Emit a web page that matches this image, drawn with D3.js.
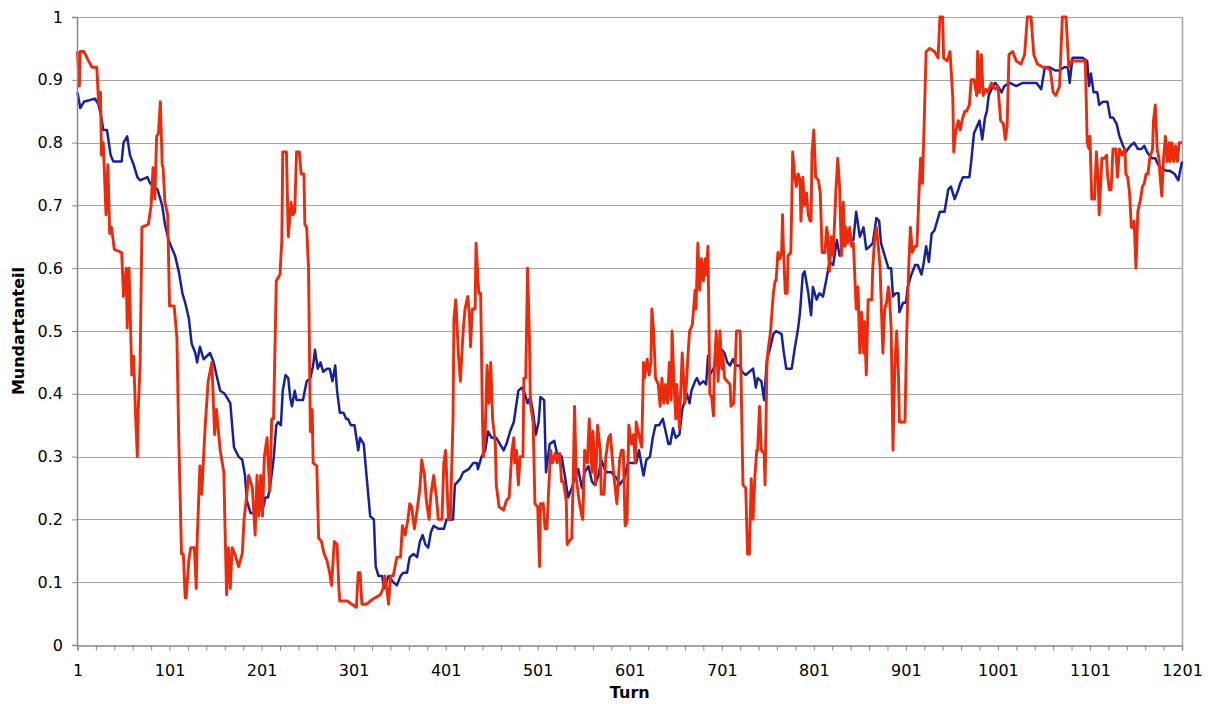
<!DOCTYPE html>
<html>
<head>
<meta charset="utf-8">
<script src="https://cdn.jsdelivr.net/npm/d3@7"></script>
<style>
  html, body { margin: 0; padding: 0; background: #ffffff; }
  svg { display: block; }
  text { font-family: "DejaVu Sans", Verdana, sans-serif; fill: #000; }
</style>
</head>
<body>
<div id="chart"></div>
<script>
// Blue series (turn, share)
const blueTurns = [1,4,8,20,24,27,29,33,37,40,49,51,55,58,62,66,69,77,80,88,93,96,100,104,107,111,115,118,122,125,129,131,134,138,145,149,152,156,161,167,171,176,180,183,185,189,193,198,203,205,208,210,214,217,219,222,224,227,230,232,234,237,239,246,250,254,257,259,262,265,268,272,275,278,281,283,286,290,293,295,298,302,304,306,308,312,315,319,323,325,328,332,334,339,344,348,352,355,359,362,366,370,373,376,379,382,385,388,393,399,402,406,409,411,417,420,426,431,435,436,440,444,447,451,456,460,464,467,471,475,477,480,484,487,490,493,496,499,502,504,508,510,514,519,522,527,531,534,538,541,545,549,552,556,560,563,567,570,575,581,587,590,595,599,604,608,611,614,616,619,623,626,629,633,637,640,643,645,648,651,655,658,663,666,668,672,674,677,681,684,686,688,692,696,701,704,707,710,713,716,720,723,727,731,735,738,740,744,747,750,753,757,760,766,768,771,777,780,784,786,789,791,795,798,800,804,807,811,815,818,822,826,829,833,836,840,844,847,851,855,858,862,865,869,872,874,878,882,885,887,890,893,894,898,901,903,907,911,914,918,920,923,926,929,932,935,938,943,947,950,954,958,960,963,970,972,975,978,981,984,987,989,991,994,998,1001,1005,1008,1014,1021,1028,1035,1043,1048,1052,1057,1063,1068,1073,1077,1079,1082,1088,1093,1098,1100,1102,1105,1109,1111,1115,1120,1123,1126,1130,1133,1137,1140,1145,1149,1153,1157,1160,1163,1168,1172,1175,1178,1184,1188,1193,1197,1201];
const blueShare = [0.88,0.855,0.865,0.87,0.86,0.84,0.82,0.82,0.78,0.77,0.77,0.80,0.81,0.78,0.765,0.745,0.74,0.745,0.735,0.725,0.70,0.67,0.645,0.63,0.62,0.595,0.56,0.545,0.52,0.48,0.465,0.45,0.475,0.455,0.465,0.45,0.43,0.405,0.40,0.385,0.315,0.30,0.295,0.27,0.23,0.21,0.21,0.215,0.22,0.235,0.235,0.25,0.295,0.35,0.355,0.35,0.405,0.43,0.425,0.395,0.38,0.405,0.39,0.39,0.42,0.425,0.445,0.47,0.44,0.45,0.435,0.44,0.44,0.42,0.445,0.405,0.37,0.37,0.36,0.36,0.35,0.35,0.33,0.31,0.33,0.32,0.27,0.205,0.20,0.125,0.11,0.11,0.09,0.11,0.10,0.095,0.11,0.115,0.115,0.14,0.145,0.14,0.165,0.175,0.16,0.155,0.18,0.19,0.185,0.185,0.20,0.20,0.20,0.255,0.265,0.275,0.28,0.29,0.29,0.28,0.30,0.31,0.34,0.33,0.33,0.32,0.31,0.32,0.34,0.355,0.375,0.405,0.41,0.40,0.385,0.395,0.37,0.335,0.355,0.395,0.39,0.275,0.32,0.325,0.305,0.30,0.265,0.235,0.25,0.265,0.28,0.25,0.275,0.285,0.26,0.255,0.27,0.295,0.275,0.275,0.265,0.255,0.265,0.29,0.29,0.29,0.31,0.285,0.27,0.295,0.30,0.33,0.35,0.35,0.36,0.34,0.32,0.32,0.345,0.33,0.335,0.375,0.40,0.385,0.405,0.42,0.425,0.415,0.42,0.415,0.46,0.43,0.44,0.46,0.47,0.465,0.45,0.445,0.455,0.445,0.445,0.435,0.43,0.435,0.44,0.41,0.425,0.42,0.39,0.455,0.47,0.495,0.50,0.495,0.47,0.44,0.44,0.47,0.505,0.53,0.59,0.595,0.56,0.525,0.57,0.55,0.56,0.555,0.585,0.61,0.605,0.645,0.62,0.64,0.655,0.645,0.645,0.69,0.65,0.665,0.63,0.635,0.64,0.68,0.675,0.64,0.62,0.60,0.60,0.555,0.56,0.56,0.53,0.545,0.545,0.57,0.59,0.605,0.605,0.59,0.605,0.635,0.61,0.655,0.66,0.675,0.69,0.69,0.725,0.73,0.71,0.725,0.735,0.745,0.745,0.77,0.815,0.825,0.835,0.805,0.84,0.85,0.875,0.885,0.895,0.89,0.88,0.89,0.895,0.89,0.895,0.895,0.895,0.885,0.92,0.92,0.915,0.915,0.92,0.92,0.895,0.935,0.935,0.935,0.93,0.89,0.91,0.88,0.88,0.86,0.865,0.865,0.84,0.84,0.83,0.81,0.795,0.785,0.795,0.80,0.79,0.79,0.795,0.785,0.775,0.775,0.765,0.76,0.755,0.755,0.75,0.74,0.77];

// Red series (turn, share)
const redTurns = [1,3,4,8,13,17,22,24,26,27,29,32,34,36,38,41,49,51,54,55,57,60,62,64,66,67,69,71,78,81,83,85,87,89,91,93,94,96,99,101,106,109,111,114,116,118,119,122,124,128,130,131,134,136,138,140,143,147,150,152,156,160,161,163,165,167,169,172,176,180,182,185,187,191,194,196,198,200,202,204,207,208,210,212,214,216,217,221,223,224,228,230,233,235,237,239,242,244,247,248,250,252,254,256,257,261,263,266,269,272,275,277,280,283,285,286,294,299,304,306,308,310,315,319,324,330,333,335,337,339,341,344,348,352,354,357,360,362,364,367,370,373,375,378,380,383,385,388,391,393,397,399,401,404,406,409,410,412,415,417,420,422,425,427,428,430,433,434,437,439,441,442,444,446,448,450,452,455,456,459,464,467,470,473,475,476,478,480,482,485,486,488,490,492,493,496,498,501,503,504,507,509,511,513,515,517,520,522,525,527,529,532,533,535,538,540,541,543,546,549,550,552,555,557,560,561,564,566,569,570,573,575,578,580,583,587,590,592,594,596,598,600,603,605,607,608,611,614,616,617,620,622,624,625,627,629,632,634,636,638,640,642,644,646,647,649,651,652,655,656,658,661,663,664,666,669,672,673,675,677,679,681,683,684,686,688,690,692,693,695,697,699,701,702,704,707,710,711,714,717,721,724,727,729,731,733,735,737,739,740,742,744,747,748,750,751,754,757,759,760,762,764,766,767,768,770,772,773,776,777,778,780,782,784,786,787,789,791,793,795,797,798,799,801,803,806,808,810,813,815,816,818,820,822,825,827,829,831,833,835,836,838,840,842,844,847,849,851,853,855,856,858,860,864,865,867,869,871,873,874,876,878,880,882,883,885,887,889,891,893,894,900,902,904,906,908,911,913,915,917,919,920,923,927,932,936,938,941,942,946,949,952,953,955,958,960,962,965,967,970,972,975,978,979,981,983,985,988,990,994,998,1001,1004,1007,1009,1011,1013,1017,1021,1026,1030,1033,1037,1040,1044,1050,1054,1058,1061,1064,1068,1071,1075,1078,1081,1086,1092,1096,1098,1100,1101,1103,1106,1108,1110,1111,1114,1117,1119,1120,1122,1124,1126,1129,1131,1133,1136,1139,1140,1142,1144,1146,1148,1149,1151,1153,1156,1158,1160,1162,1164,1166,1169,1170,1172,1174,1176,1177,1179,1181,1183,1185,1187,1188,1190,1192,1194,1196,1198,1201];
const redShare = [0.945,0.89,0.945,0.945,0.93,0.92,0.92,0.86,0.88,0.78,0.80,0.685,0.765,0.655,0.665,0.63,0.625,0.555,0.60,0.505,0.60,0.43,0.46,0.37,0.30,0.375,0.445,0.665,0.67,0.70,0.76,0.71,0.81,0.815,0.865,0.765,0.76,0.705,0.685,0.54,0.54,0.49,0.33,0.145,0.145,0.075,0.075,0.135,0.155,0.155,0.09,0.165,0.285,0.24,0.30,0.355,0.42,0.45,0.335,0.375,0.31,0.275,0.205,0.08,0.155,0.09,0.155,0.145,0.125,0.145,0.20,0.24,0.27,0.25,0.175,0.27,0.205,0.27,0.205,0.30,0.33,0.295,0.245,0.36,0.36,0.505,0.58,0.59,0.645,0.785,0.785,0.65,0.705,0.685,0.69,0.785,0.785,0.75,0.75,0.67,0.665,0.60,0.34,0.375,0.29,0.285,0.17,0.165,0.145,0.135,0.115,0.095,0.165,0.16,0.09,0.07,0.07,0.065,0.06,0.115,0.115,0.065,0.065,0.07,0.075,0.08,0.09,0.11,0.09,0.065,0.11,0.11,0.14,0.14,0.19,0.175,0.20,0.225,0.22,0.185,0.215,0.25,0.295,0.27,0.23,0.20,0.24,0.27,0.235,0.20,0.20,0.29,0.31,0.20,0.20,0.36,0.52,0.55,0.46,0.42,0.50,0.535,0.555,0.52,0.475,0.535,0.535,0.64,0.56,0.56,0.36,0.30,0.34,0.445,0.385,0.45,0.36,0.32,0.255,0.22,0.215,0.23,0.235,0.31,0.33,0.29,0.31,0.255,0.30,0.30,0.425,0.425,0.60,0.49,0.385,0.355,0.225,0.22,0.125,0.225,0.225,0.185,0.185,0.25,0.31,0.29,0.305,0.29,0.305,0.26,0.26,0.23,0.16,0.165,0.17,0.295,0.38,0.265,0.23,0.205,0.20,0.31,0.29,0.36,0.275,0.34,0.255,0.35,0.31,0.24,0.24,0.30,0.33,0.335,0.28,0.225,0.295,0.31,0.31,0.19,0.195,0.35,0.32,0.335,0.29,0.355,0.335,0.315,0.45,0.425,0.455,0.43,0.45,0.535,0.50,0.425,0.415,0.38,0.425,0.385,0.415,0.385,0.45,0.39,0.50,0.42,0.36,0.415,0.345,0.39,0.465,0.385,0.425,0.455,0.50,0.51,0.565,0.535,0.64,0.565,0.615,0.58,0.615,0.59,0.635,0.40,0.395,0.365,0.445,0.50,0.42,0.50,0.44,0.465,0.425,0.42,0.415,0.38,0.385,0.50,0.50,0.255,0.25,0.145,0.145,0.265,0.20,0.27,0.31,0.31,0.38,0.31,0.305,0.255,0.445,0.465,0.50,0.56,0.58,0.58,0.625,0.615,0.625,0.685,0.63,0.56,0.56,0.62,0.625,0.70,0.785,0.75,0.73,0.75,0.74,0.675,0.745,0.70,0.72,0.685,0.675,0.675,0.785,0.82,0.745,0.74,0.72,0.625,0.625,0.665,0.655,0.595,0.65,0.62,0.725,0.775,0.73,0.62,0.705,0.635,0.665,0.64,0.665,0.635,0.64,0.535,0.57,0.465,0.53,0.465,0.515,0.43,0.55,0.55,0.60,0.645,0.665,0.635,0.60,0.555,0.465,0.535,0.545,0.57,0.56,0.505,0.31,0.445,0.50,0.425,0.355,0.355,0.50,0.60,0.665,0.625,0.635,0.635,0.71,0.775,0.735,0.785,0.945,0.95,0.945,0.935,1.0,1.0,0.935,0.93,0.945,0.87,0.785,0.815,0.835,0.82,0.835,0.85,0.85,0.86,0.90,0.90,0.875,0.945,0.88,0.94,0.875,0.885,0.88,0.895,0.885,0.89,0.835,0.83,0.805,0.825,0.94,0.945,0.93,0.925,0.94,1.0,1.0,0.94,0.925,0.92,0.92,0.915,0.88,0.875,0.89,1.0,1.0,0.92,0.93,0.93,0.93,0.93,0.80,0.79,0.81,0.71,0.71,0.785,0.74,0.685,0.775,0.775,0.78,0.75,0.725,0.725,0.79,0.79,0.745,0.79,0.78,0.79,0.75,0.745,0.72,0.665,0.665,0.675,0.60,0.69,0.71,0.73,0.735,0.75,0.75,0.775,0.79,0.835,0.86,0.79,0.775,0.75,0.715,0.775,0.81,0.77,0.80,0.77,0.80,0.77,0.795,0.77,0.80,0.80];

// Axis ticks
const xTickTurns = d3.range(1, 1202, 20);
const xLabelTurns = [1, 101, 201, 301, 401, 501, 601, 701, 801, 901, 1001, 1101, 1201];
const yTicks = [0, 0.1, 0.2, 0.3, 0.4, 0.5, 0.6, 0.7, 0.8, 0.9, 1];

const width = 1208;
const height = 704;
const margin = { top: 17, right: 26, bottom: 59, left: 77.5 };
const innerW = width - margin.left - margin.right;
const innerH = height - margin.top - margin.bottom;
const FONT = '"DejaVu Sans", Verdana, sans-serif';

const svg = d3.select('#chart')
  .append('svg')
  .attr('width', width)
  .attr('height', height);

svg.append('rect').attr('width', width).attr('height', height).attr('fill', '#fff');

const g = svg.append('g').attr('transform', `translate(${margin.left},${margin.top})`);

const x = d3.scaleLinear().domain([1, 1201]).range([0, innerW]);
const y = d3.scaleLinear().domain([0, 1]).range([innerH, 0]);

// Gridlines
g.append('g')
  .selectAll('line')
  .data(yTicks.filter((d) => d > 0))
  .enter()
  .append('line')
  .attr('x1', 0)
  .attr('x2', innerW)
  .attr('y1', (d) => Math.round(y(d)) + 0.5)
  .attr('y2', (d) => Math.round(y(d)) + 0.5)
  .attr('stroke', '#a6a6a6')
  .attr('stroke-width', 1);

// Right border
g.append('line')
  .attr('x1', innerW + 0.5).attr('x2', innerW + 0.5)
  .attr('y1', 0).attr('y2', innerH)
  .attr('stroke', '#a6a6a6')
  .attr('stroke-width', 1.5);

// Series
const line = d3.line()
  .x((d) => x(d[0]))
  .y((d) => y(d[1]));

const blueData = blueTurns.map((t, i) => [t, blueShare[i]]);
const redData = redTurns.map((t, i) => [t, redShare[i]]);

g.append('path')
  .datum(blueData)
  .attr('fill', 'none')
  .attr('stroke', '#16229a')
  .attr('stroke-width', 2.5)
  .attr('stroke-linejoin', 'round')
  .attr('d', line);

g.append('path')
  .datum(redData)
  .attr('fill', 'none')
  .attr('stroke', '#ec2a0c')
  .attr('stroke-width', 2.9)
  .attr('stroke-linejoin', 'round')
  .attr('d', line);

// X axis
const xAxis = g.append('g')
  .attr('transform', `translate(0,${innerH + 0.5})`)
  .call(d3.axisBottom(x)
    .tickValues(xTickTurns)
    .tickSize(5)
    .tickFormat((d) => (xLabelTurns.includes(d) ? d : '')));
xAxis.select('.domain').attr('stroke', '#888').attr('stroke-width', 1.5);
xAxis.selectAll('.tick line').attr('stroke', '#888');
xAxis.selectAll('text')
  .attr('font-size', '16px')
  .attr('font-family', FONT)
  .attr('fill', '#000')
  .attr('y', 19);

// Y axis
const yAxis = g.append('g')
  .attr('transform', 'translate(-0.5,0)')
  .call(d3.axisLeft(y)
    .tickValues(yTicks)
    .tickSize(5)
    .tickFormat((d) => (d === 0 || d === 1 ? String(d) : d.toFixed(1))));
yAxis.select('.domain').attr('stroke', '#888').attr('stroke-width', 1.5);
yAxis.selectAll('.tick line').attr('stroke', '#888');
yAxis.selectAll('text')
  .attr('font-size', '16px')
  .attr('font-family', FONT)
  .attr('fill', '#000')
  .attr('x', -14);

// Axis titles
svg.append('text')
  .attr('x', margin.left + innerW / 2)
  .attr('y', 698)
  .attr('text-anchor', 'middle')
  .attr('font-size', '16px')
  .attr('font-weight', 'bold')
  .text('Turn');

svg.append('text')
  .attr('transform', `translate(24,${margin.top + innerH / 2}) rotate(-90)`)
  .attr('text-anchor', 'middle')
  .attr('font-size', '16px')
  .attr('font-weight', 'bold')
  .text('Mundartanteil');
</script>
</body>
</html>
